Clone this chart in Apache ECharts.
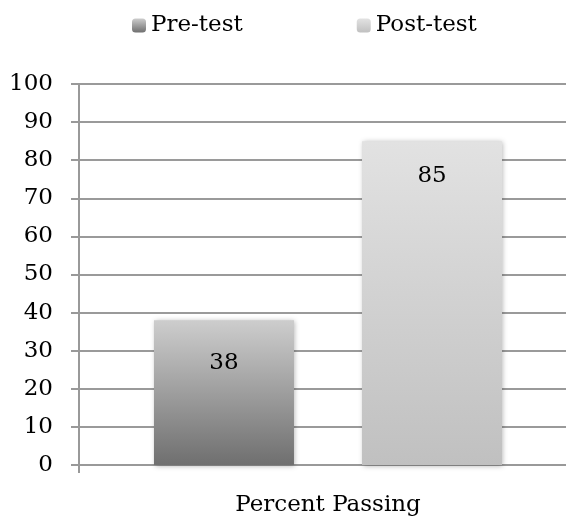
<!DOCTYPE html>
<html><head><meta charset="utf-8">
<script src="https://cdn.jsdelivr.net/npm/echarts@6/dist/echarts.min.js"></script>
<style>html,body{margin:0;padding:0;background:#fff;overflow:hidden;width:566px;height:519px}#c{width:577px;height:519px}</style>
</head><body><div id="c"></div>
<script>
var categories = ['Percent Passing'];
var seriesNames = ['Pre-test', 'Post-test'];
var preValues = [38];
var postValues = [85];
var yTicks = [0, 10, 20, 30, 40, 50, 60, 70, 80, 90, 100];

var FONT = 'DejaVu Serif';
var FS = 23;
function grad(top, bottom) {
  return new echarts.graphic.LinearGradient(0, 0, 0, 1, [
    {offset: 0, color: top}, {offset: 1, color: bottom}
  ]);
}
var chart = echarts.init(document.getElementById('c'), null, {renderer: 'canvas'});
function labelCfg(d) {
  return {show: true, position: 'insideTop', distance: d, color: '#000', fontFamily: FONT, fontSize: FS};
}
chart.setOption({
  animation: false,
  textStyle: {fontFamily: FONT},
  legend: {
    data: seriesNames, top: 9, left: 127, itemWidth: 14, itemHeight: 14, itemGap: 114,
    textStyle: {fontFamily: FONT, fontSize: FS, color: '#000'}
  },
  grid: {left: 79, right: 0, top: 84, bottom: 54, containLabel: false},
  xAxis: {
    type: 'category', data: categories,
    axisLine: {show: true, lineStyle: {color: '#999', width: 2}},
    axisTick: {show: true, length: 8, lineStyle: {color: '#999', width: 2}},
    axisLabel: {color: '#000', fontFamily: FONT, fontSize: FS, margin: 29}
  },
  yAxis: {
    type: 'value', min: yTicks[0], max: yTicks[yTicks.length - 1], interval: 10,
    axisLine: {show: true, lineStyle: {color: '#999', width: 2}},
    axisTick: {show: true, length: 8, lineStyle: {color: '#999', width: 2}},
    splitLine: {show: true, lineStyle: {color: '#9a9a9a', width: 2}},
    axisLabel: {color: '#000', fontFamily: FONT, fontSize: FS, margin: 26}
  },
  series: [
    {name: seriesNames[0], type: 'bar', data: preValues, barWidth: 140, barGap: '48.6%',
     itemStyle: {color: grad('#cdcdcd', '#6f6f6f'), shadowBlur: 5, shadowColor: 'rgba(0,0,0,0.3)', shadowOffsetX: 1, shadowOffsetY: 1},
     label: labelCfg(31)},
    {name: seriesNames[1], type: 'bar', data: postValues, barWidth: 140,
     itemStyle: {color: grad('#e2e2e2', '#c0c0c0'), shadowBlur: 5, shadowColor: 'rgba(0,0,0,0.3)', shadowOffsetX: 1, shadowOffsetY: 1},
     label: labelCfg(23)}
  ]
});
</script></body></html>
